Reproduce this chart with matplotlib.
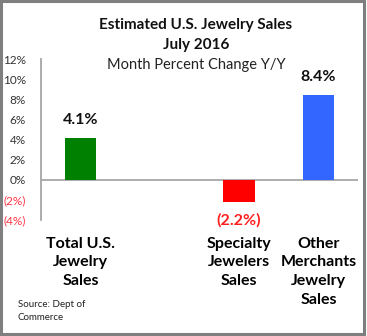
import numpy as np
import matplotlib
matplotlib.use("Agg")
import matplotlib.pyplot as plt
from matplotlib.patches import Rectangle

categories = ["Total U.S.\nJewelry\nSales", "", "Specialty\nJewelers\nSales",
              "Other\nMerchants\nJewelry\nSales"]
values = [4.1, np.nan, -2.2, 8.4]
bar_colors = ["#008000", "#ffffff", "#ff0000", "#3366ff"]
yticks = [-4, -2, 0, 2, 4, 6, 8, 10, 12]
ytick_labels = ["(4%)", "(2%)", "0%", "2%", "4%", "6%", "8%", "10%", "12%"]
title_lines = ["Estimated U.S. Jewelry Sales", "July 2016"]
subtitle = "Month Percent Change Y/Y"
source = "Source: Dept of\nCommerce"

plt.rcParams['font.family'] = ['Lato', 'DejaVu Sans']

W, H = 367, 336
fig = plt.figure(figsize=(W / 100, H / 100), dpi=100)
fig.patch.set_facecolor("white")

ax = fig.add_axes([41 / W, (H - 220) / H, (358 - 41) / W, (220 - 59) / H])
x = np.arange(len(categories))
ax.bar(x, values, width=0.40, color=bar_colors, edgecolor="none", zorder=3)
ax.set_xlim(-0.5, 3.5)
ax.set_ylim(-4, 12)
ax.axhline(0, color="#a6a6a6", lw=1.3, zorder=2)

for s in ["top", "right", "bottom"]:
    ax.spines[s].set_visible(False)
ax.spines["left"].set_color("#a6a6a6")
ax.spines["left"].set_linewidth(1.3)

ax.set_yticks(yticks)
ax.set_yticklabels(ytick_labels, fontsize=8.5)
ax.tick_params(axis="y", length=0, pad=11)
for lab, v in zip(ax.get_yticklabels(), yticks):
    lab.set_color("#ff3344" if v < 0 else "#333333")

ax.set_xticks(x)
ax.set_xticklabels(categories, fontsize=11.5, fontweight="bold", linespacing=1.42)
ax.tick_params(axis="x", length=0, pad=12)

for xi, v in zip(x, values):
    if np.isnan(v):
        continue
    if v >= 0:
        ax.annotate(f"{v:.1f}%", (xi, v), xytext=(0, 8), textcoords="offset points",
                    ha="center", va="bottom", fontsize=11.5, fontweight="bold", color="#111111")
    else:
        ax.annotate(f"({-v:.1f}%)", (xi, v), xytext=(0, -8), textcoords="offset points",
                    ha="center", va="top", fontsize=11.5, fontweight="bold", color="#ff2020")

fig.text(196 / W, 1 - 25 / H, title_lines[0], ha="center", va="center",
         fontsize=11, fontweight="bold", color="#111111")
fig.text(196 / W, 1 - 45 / H, title_lines[1], ha="center", va="center",
         fontsize=11, fontweight="bold", color="#111111")
fig.text(196 / W, 1 - 65 / H, subtitle, ha="center", va="center",
         fontsize=10.5, color="#222222")
fig.text(18 / W, 1 - 300 / H, source, ha="left", va="top", fontsize=7,
         color="#222222", linespacing=1.5)

fig.patches.append(Rectangle((1 / W, 2 / H), (W - 4) / W, (H - 3) / H,
                             transform=fig.transFigure, fill=False,
                             edgecolor="#7f7f7f", linewidth=2.2))

fig.savefig("out.png", dpi=100, facecolor="white")
